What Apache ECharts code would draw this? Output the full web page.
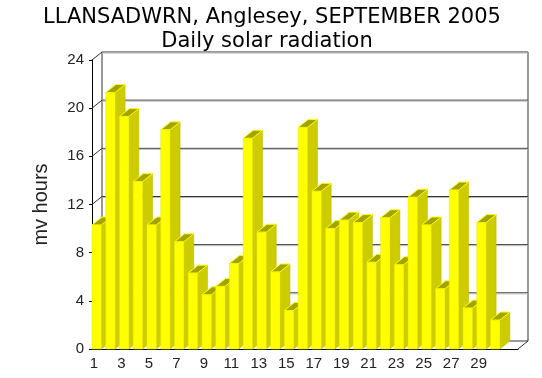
<!DOCTYPE html>
<html>
<head>
<meta charset="utf-8">
<script src="https://cdn.jsdelivr.net/npm/echarts@6/dist/echarts.min.js"></script>
<style>
  html, body { margin: 0; padding: 0; background: #fff; }
  #chart { width: 542px; height: 378px; }
</style>
</head>
<body>
<div id="chart"></div>
<script>
  // days of the month (last slot is the empty end of the floor)
  var days = ['1','2','3','4','5','6','7','8','9','10','11','12','13','14','15',
              '16','17','18','19','20','21','22','23','24','25','26','27','28','29','30',''];
  // daily solar radiation, mv hours
  var radiation = [10.3, 21.3, 19.3, 13.9, 10.3, 18.2, 8.9, 6.3, 4.5, 5.2,
                   7.1, 17.5, 9.7, 6.4, 3.2, 18.4, 13.1, 10.0, 10.7, 10.5,
                   7.2, 10.9, 7.0, 12.6, 10.3, 5.0, 13.2, 3.4, 10.5, 2.4];
  var yTicks = [0, 4, 8, 12, 16, 20, 24];

  var DX = 10, DY = -8; // depth of the 3d box

  var myChart = echarts.init(document.getElementById('chart'));

  // 3d bars: front face, side, top
  function renderBar(params, api) {
    var idx = api.value(0);
    var base = api.coord([idx, 0]);
    var top = api.coord([idx, api.value(1)]);
    var w = api.size([1, 0])[0];
    var x0 = base[0] - w / 2;
    var fw = w * 0.68;
    return {
      type: 'group',
      children: [
        {
          type: 'polygon',
          shape: { points: [[x0 + fw, top[1]], [x0 + fw + DX, top[1] + DY], [x0 + fw + DX, base[1] + DY], [x0 + fw, base[1]]] },
          style: { fill: '#cccc00', stroke: '#b8b800', lineWidth: 0.5 }
        },
        {
          type: 'polygon',
          shape: { points: [[x0, top[1]], [x0 + DX, top[1] + DY], [x0 + fw + DX, top[1] + DY], [x0 + fw, top[1]]] },
          style: { fill: '#a3a300', stroke: '#ffff00', lineWidth: 1 }
        },
        {
          type: 'rect',
          shape: { x: x0, y: top[1], width: fw, height: base[1] - top[1] },
          style: { fill: '#ffff00', stroke: '#e6e600', lineWidth: 0.5 }
        }
      ]
    };
  }

  // walls of the box: back grid lines, left diagonals, floor
  function renderFrame(params, api) {
    var cs = params.coordSys;
    var v = api.value(0);
    var y = api.coord([0, v])[1];
    var left = cs.x, right = cs.x + cs.width;
    var ls = { stroke: '#333', lineWidth: 1 };
    var children = [
      { type: 'line', shape: { x1: left, y1: y, x2: left + DX, y2: y + DY }, style: ls },
      { type: 'line', shape: { x1: left + DX, y1: y + DY, x2: right + DX, y2: y + DY }, style: ls }
    ];
    if (v > 0) {
      children.push({ type: 'line', shape: { x1: left + DX, y1: y + DY + 1, x2: right + DX, y2: y + DY + 1 }, style: { stroke: '#bbb', lineWidth: 1 } });
    }
    if (v === 0) {
      children.push({ type: 'line', shape: { x1: right, y1: y, x2: right + DX, y2: y + DY }, style: ls });
      var yTop = api.coord([0, yTicks[yTicks.length - 1]])[1];
      children.push({ type: 'line', shape: { x1: left + DX, y1: y + DY, x2: left + DX, y2: yTop + DY }, style: ls });
      children.push({ type: 'line', shape: { x1: right + DX, y1: y + DY, x2: right + DX, y2: yTop + DY }, style: ls });
    }
    return { type: 'group', children: children };
  }

  var option = {
    animation: false,
    backgroundColor: '#fff',
    title: [{
      text: 'LLANSADWRN, Anglesey, SEPTEMBER 2005',
      left: 267,
      top: 2,
      textAlign: 'center',
      textStyle: { fontFamily: 'DejaVu Sans', fontSize: 21, fontWeight: 'normal', color: '#000' }
    }, {
      text: 'Daily solar radiation',
      left: 262,
      top: 26,
      textAlign: 'center',
      textStyle: { fontFamily: 'DejaVu Sans', fontSize: 21, fontWeight: 'normal', color: '#000' }
    }],
    grid: {
      left: 92,
      right: 24,
      top: 60,
      bottom: 29
    },
    xAxis: {
      type: 'category',
      data: days,
      boundaryGap: true,
      axisLine: { show: true, lineStyle: { color: '#000', width: 1 } },
      axisTick: { show: false },
      axisLabel: {
        interval: 1,
        margin: 7,
        padding: [0, 10, 0, 0],
        fontFamily: 'Liberation Sans',
        fontSize: 15,
        color: '#222'
      },
      splitLine: { show: false }
    },
    yAxis: {
      type: 'value',
      min: 0,
      max: 24,
      interval: 4,
      name: 'mv hours',
      nameLocation: 'middle',
      nameRotate: 90,
      nameGap: 41,
      nameTextStyle: { fontFamily: 'Liberation Sans', fontSize: 20, color: '#222' },
      axisLine: { show: true, lineStyle: { color: '#000', width: 1 } },
      axisTick: { show: true, length: 3, lineStyle: { color: '#000' } },
      axisLabel: { margin: 8, fontFamily: 'Liberation Sans', fontSize: 15, color: '#222' },
      splitLine: { show: false }
    },
    series: [{
      name: 'frame',
      type: 'custom',
      renderItem: renderFrame,
      encode: { y: 0 },
      data: yTicks.map(function (v) { return [v]; }),
      z: 1,
      silent: true
    }, {
      name: 'radiation',
      type: 'custom',
      renderItem: renderBar,
      encode: { x: 0, y: 1 },
      data: radiation.map(function (v, i) { return [i, v]; }),
      z: 2
    }]
  };

  myChart.setOption(option);
</script>
</body>
</html>
